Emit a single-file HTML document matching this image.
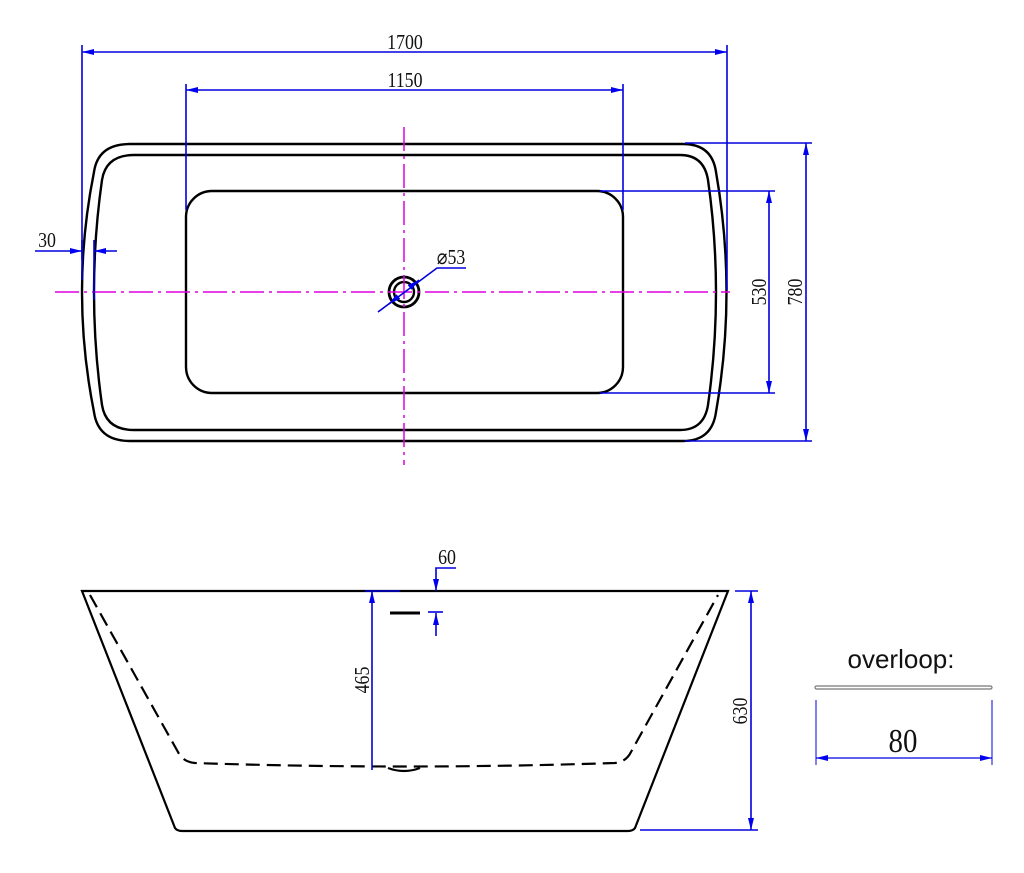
<!DOCTYPE html>
<html><head><meta charset="utf-8"><style>
html,body{margin:0;padding:0;background:#fff;width:1024px;height:873px;overflow:hidden}
text{font-family:"Liberation Serif",serif;fill:#111}
</style></head><body>
<svg width="1024" height="873" viewBox="0 0 1024 873" xmlns="http://www.w3.org/2000/svg">
<defs>
<marker id="a" viewBox="0 0 12 6" refX="12" refY="3" markerWidth="12" markerHeight="6" orient="auto-start-reverse" markerUnits="userSpaceOnUse"><path d="M0,0 L12,3 L0,6z" fill="#0000ee"/></marker>
</defs>
<g fill="none" stroke="#000" stroke-width="2.4">
<path d="M130,144 L683,144 Q712,144 716,172 Q737,292 716,412 Q712,441 683,441 L130,441 Q98,441 94,412 Q70,292 94,172 Q98,144 130,144Z"/>
<path d="M134,155 L680,155 Q704,155 708,180 Q724,292 708,405 Q704,430 680,430 L134,430 Q106,430 102,405 Q86,292 102,180 Q106,155 134,155Z"/>
<rect x="186" y="191" width="437" height="202" rx="26"/>
<circle cx="404" cy="292" r="15" stroke-width="2.8"/>
<circle cx="404" cy="292" r="10"/>
</g>
<g stroke="#e000e0" stroke-width="1.5" stroke-dasharray="24,5,3,5" fill="none">
<line x1="55" y1="292" x2="730" y2="292"/>
<line x1="404" y1="127" x2="404" y2="465"/>
</g>
<g stroke="#0000dd" stroke-width="1.6" fill="none">
<line x1="82" y1="45" x2="82" y2="280"/><line x1="727" y1="45" x2="727" y2="290"/>
<line x1="82" y1="52" x2="727" y2="52" marker-start="url(#a)" marker-end="url(#a)"/>
<line x1="186" y1="84" x2="186" y2="210"/><line x1="623" y1="84" x2="623" y2="210"/>
<line x1="186" y1="90" x2="623" y2="90" marker-start="url(#a)" marker-end="url(#a)"/>
<line x1="685" y1="143" x2="812" y2="143"/><line x1="685" y1="441" x2="812" y2="441"/>
<line x1="806" y1="143" x2="806" y2="441" marker-start="url(#a)" marker-end="url(#a)"/>
<line x1="600" y1="191" x2="775" y2="191"/><line x1="600" y1="393" x2="775" y2="393"/>
<line x1="769" y1="191" x2="769" y2="393" marker-start="url(#a)" marker-end="url(#a)"/>
<line x1="35" y1="251" x2="82" y2="251" marker-end="url(#a)"/>
<line x1="117" y1="251" x2="94" y2="251" marker-end="url(#a)"/>
<line x1="82" y1="240" x2="82" y2="260"/><line x1="94" y1="240" x2="94" y2="300"/>
<polyline points="378,312 437,268 466,268"/>
<line x1="394" y1="300" x2="389" y2="304" marker-end="url(#a)"/>
<line x1="414" y1="284" x2="419" y2="280" marker-end="url(#a)"/>
</g>
<g font-size="21">
<text transform="translate(405,49) scale(0.85,1)" text-anchor="middle">1700</text>
<text transform="translate(405,87) scale(0.85,1)" text-anchor="middle">1150</text>
<text transform="translate(47,247) scale(0.85,1)" text-anchor="middle">30</text>
<text transform="translate(451,264) scale(0.85,1)" text-anchor="middle">⌀53</text>
<text transform="translate(766,292) rotate(-90) scale(0.85,1)" text-anchor="middle">530</text>
<text transform="translate(802,292) rotate(-90) scale(0.85,1)" text-anchor="middle">780</text>
<text transform="translate(447,564) scale(0.85,1)" text-anchor="middle">60</text>
<text transform="translate(369,680) rotate(-90) scale(0.85,1)" text-anchor="middle">465</text>
<text transform="translate(747,711) rotate(-90) scale(0.85,1)" text-anchor="middle">630</text>
</g>
<!-- side view -->
<g fill="none" stroke="#000" stroke-width="2.2">
<path d="M82,591 L728,591 L635,828 Q633,831 628,831 L182,831 Q177,831 175,828 Z"/>
<path d="M90,595 L178,752 Q183,762 195,763 Q404,770 615,763 Q626,762 631,752 L718,595" stroke-dasharray="14,7"/>
<line x1="390" y1="613" x2="420" y2="613" stroke-width="3"/>
<path d="M388,768 Q404,774 420,768"/>
</g>
<g stroke="#0000dd" stroke-width="1.6" fill="none">
<line x1="365" y1="591" x2="400" y2="591"/>
<line x1="372" y1="591" x2="372" y2="770" marker-start="url(#a)"/>
<polyline points="456,568 436,568 436,591" marker-end="url(#a)"/>
<line x1="436" y1="636" x2="436" y2="613" marker-end="url(#a)"/>
<line x1="428" y1="612" x2="443" y2="612"/>
<line x1="735" y1="591" x2="758" y2="591"/><line x1="640" y1="830" x2="758" y2="830"/>
<line x1="751" y1="591" x2="751" y2="830" marker-start="url(#a)" marker-end="url(#a)"/>
<line x1="816" y1="700" x2="816" y2="765" stroke-width="1"/><line x1="992" y1="700" x2="992" y2="765" stroke-width="1"/>
<line x1="816" y1="758" x2="992" y2="758" stroke-width="1.2" marker-start="url(#a)" marker-end="url(#a)"/>
</g>
<text x="901" y="668" font-size="26" text-anchor="middle" style="font-family:'Liberation Sans',sans-serif">overloop:</text>
<rect x="815" y="686" width="177" height="3" rx="1.5" fill="#fff" stroke="#777" stroke-width="1.2"/>
<text transform="translate(903,752) scale(0.85,1)" font-size="34" text-anchor="middle">80</text>
</svg>
</body></html>
